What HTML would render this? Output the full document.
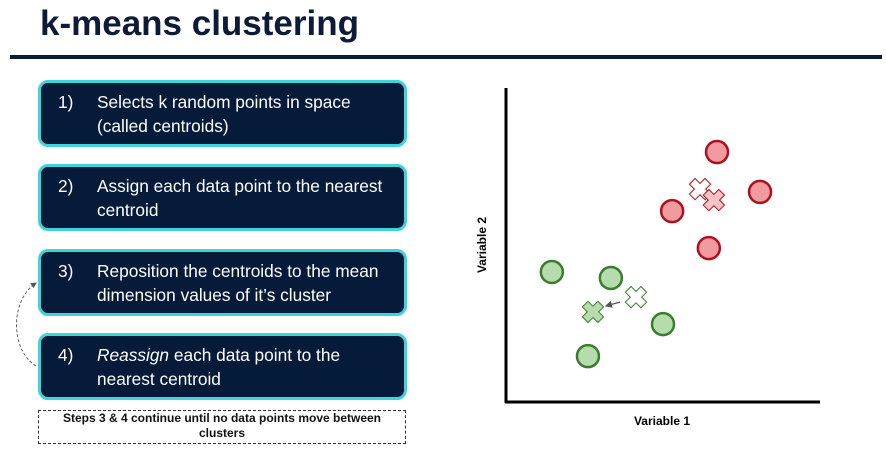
<!DOCTYPE html>
<html><head><meta charset="utf-8"><style>
body{margin:0;width:886px;height:449px;background:#fff;position:relative;overflow:hidden;font-family:"Liberation Sans",sans-serif}
.title{position:absolute;left:40px;top:4px;font-size:35px;font-weight:bold;color:#0d1a38}
.rule{position:absolute;left:10px;top:55px;width:872px;height:4px;background:#0d1a38}
.box{position:absolute;left:38px;width:363px;height:61px;background:#061a39;border:3px solid #3dd4da;border-radius:10px;color:#fff;font-size:17.3px;line-height:24px}
.box .n{position:absolute;left:17px;top:7px}
.box .t{position:absolute;left:56px;top:7px;width:294px}
.note{position:absolute;left:38px;top:410px;width:366px;height:32px;border:1px dashed #333;font-size:12px;font-weight:bold;text-align:center;line-height:15px;color:#111}
</style></head><body>
<div class="title">k-means clustering</div>
<div class="rule"></div>
<div class="box" style="top:80px"><span class="n">1)</span><span class="t">Selects k random points in space (called centroids)</span></div>
<div class="box" style="top:164px"><span class="n">2)</span><span class="t">Assign each data point to the nearest centroid</span></div>
<div class="box" style="top:249px"><span class="n">3)</span><span class="t">Reposition the centroids to the mean dimension values of it’s cluster</span></div>
<div class="box" style="top:333px"><span class="n">4)</span><span class="t"><i>Reassign</i> each data point to the nearest centroid</span></div>
<div class="note">Steps 3 &amp; 4 continue until no data points move between clusters</div>
<svg width="886" height="449" style="position:absolute;left:0;top:0" id="svg">
<defs><marker id="ah" markerWidth="6" markerHeight="6" refX="5" refY="3" orient="auto"><path d="M0,0L6,3L0,6z" fill="#555"/></marker></defs>
<path d="M36,366 C10,350 10,300 36,283" fill="none" stroke="#666" stroke-width="1" stroke-dasharray="3,2" marker-end="url(#ah)"/>
<line x1="506" y1="88" x2="506" y2="403" stroke="#000" stroke-width="3"/>
<line x1="505" y1="402" x2="820" y2="402" stroke="#000" stroke-width="3"/>
<text x="486" y="245" transform="rotate(-90 486 245)" text-anchor="middle" font-size="12" font-weight="bold" font-family="Liberation Sans">Variable 2</text>
<text x="662" y="425" text-anchor="middle" font-size="12" font-weight="bold" font-family="Liberation Sans">Variable 1</text>
<g id="marks"></g>
</svg>
<script>
const redX=[6.72,8.09,5.29,6.46];
const redY=[7.96,6.69,6.08,4.90];
const greenX=[1.46,3.34,5.0,2.61];
const greenY=[4.14,3.95,2.48,1.46];
const centroidOldX=[6.18,4.14];
const centroidOldY=[6.78,3.34];
const centroidNewX=[6.62,2.77];
const centroidNewY=[6.43,2.87];
const sx=v=>506+v*31.4, sy=v=>402-v*31.4;
const g=document.getElementById('marks'), NS='http://www.w3.org/2000/svg';
function circ(x,y,fill,stroke,name){const c=document.createElementNS(NS,'circle');
c.setAttribute('cx',sx(x));c.setAttribute('cy',sy(y));c.setAttribute('r',11);
c.setAttribute('fill',fill);c.setAttribute('stroke',stroke);c.setAttribute('stroke-width',2.5);


g.appendChild(c);}
function cross(x,y,fill,stroke,name){const p=document.createElementNS(NS,'path');
const a=4,b=11;
p.setAttribute('d',`M${-a},${-b}H${a}V${-a}H${b}V${a}H${a}V${b}H${-a}V${a}H${-b}V${-a}H${-a}Z`);
p.setAttribute('transform',`translate(${sx(x)},${sy(y)}) rotate(45)`);
p.setAttribute('fill',fill);p.setAttribute('stroke',stroke);p.setAttribute('stroke-width',1);


g.appendChild(p);}
redX.forEach((x,i)=>circ(x,redY[i],'#f09ba0','#b0101e','red-point'));
greenX.forEach((x,i)=>circ(x,greenY[i],'#b6dcae','#3a7d2c','green-point'));
const cs=[['#b0101e','#f6c3c6'],['#3a7d2c','#b6dcae']];
centroidOldX.forEach((x,i)=>cross(x,centroidOldY[i],'#fff',cs[i][0],'old-centroid'));
centroidNewX.forEach((x,i)=>cross(x,centroidNewY[i],cs[i][1],cs[i][0],'new-centroid'));
const l=document.createElementNS(NS,'line');
l.setAttribute('x1',sx(centroidOldX[1])-16);l.setAttribute('y1',sy(centroidOldY[1])+5);
l.setAttribute('x2',sx(centroidNewX[1])+13);l.setAttribute('y2',sy(centroidNewY[1])-6);
l.setAttribute('stroke','#555');l.setAttribute('stroke-width',1.2);l.setAttribute('marker-end','url(#ah)');


g.appendChild(l);
</script>
</body></html>
